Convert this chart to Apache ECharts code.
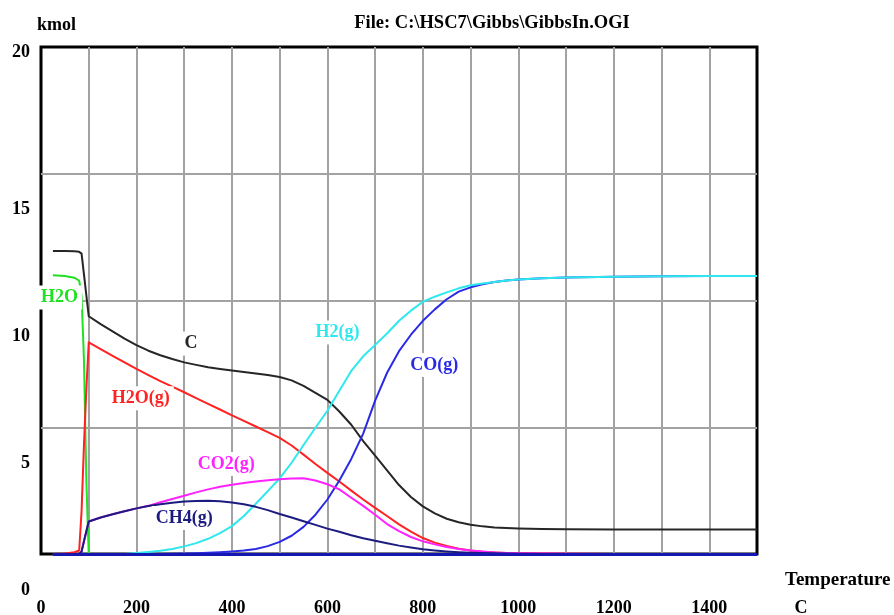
<!DOCTYPE html>
<html>
<head>
<meta charset="utf-8">
<title>GibbsIn equilibrium amounts</title>
<script src="https://cdn.jsdelivr.net/npm/echarts@6/dist/echarts.min.js"></script>
<style>
  html, body { margin: 0; padding: 0; background: #fff; }
  #chart { width: 894px; height: 615px; }
</style>
</head>
<body>
<div id="chart"></div>
<script>
// Temperature steps (C) shared by every species
const temps = [25, 50, 70, 80, 85, 90, 95, 100, 125, 150, 175, 200, 225, 250, 275, 300, 325, 350, 375, 400,
  425, 450, 475, 500, 525, 550, 575, 600, 625, 650, 675, 700, 725, 750, 775, 800, 825, 850, 875, 900,
  925, 950, 975, 1000, 1050, 1100, 1200, 1300, 1400, 1500];

// Equilibrium amounts, kmol
const cSolid = [11.95, 11.95, 11.94, 11.92, 11.85, 11.03, 10.2, 9.38, 9.07, 8.78, 8.5, 8.24, 8.02, 7.84, 7.69, 7.56, 7.46, 7.37, 7.3, 7.24,
  7.18, 7.12, 7.06, 6.98, 6.85, 6.63, 6.36, 6.08, 5.62, 5.1, 4.45, 3.88, 3.3, 2.72, 2.25, 1.88, 1.6, 1.39, 1.25, 1.15,
  1.09, 1.05, 1.03, 1.01, 0.99, 0.98, 0.97, 0.97, 0.97, 0.97];
const h2oLiquid = [11.0, 10.97, 10.9, 10.78, 10.2, 7.65, 2.9, 0, 0, 0, 0, 0, 0, 0, 0, 0, 0, 0, 0, 0,
  0, 0, 0, 0, 0, 0, 0, 0, 0, 0, 0, 0, 0, 0, 0, 0, 0, 0, 0, 0,
  0, 0, 0, 0, 0, 0, 0, 0, 0, 0];
const h2oGas = [0, 0.02, 0.07, 0.14, 1.7, 4.3, 6.5, 8.35, 8.08, 7.82, 7.56, 7.3, 7.06, 6.82, 6.6, 6.38, 6.15, 5.92, 5.7, 5.47,
  5.25, 5.03, 4.81, 4.58, 4.28, 3.92, 3.55, 3.2, 2.86, 2.5, 2.15, 1.82, 1.5, 1.17, 0.88, 0.63, 0.45, 0.32, 0.21, 0.14,
  0.09, 0.06, 0.04, 0.03, 0.02, 0.01, 0, 0, 0, 0];
const ch4Gas = [0, 0, 0, 0, 0.1, 0.5, 0.9, 1.28, 1.44, 1.57, 1.69, 1.8, 1.89, 1.96, 2.02, 2.07, 2.09, 2.1, 2.08, 2.03,
  1.96, 1.86, 1.73, 1.58, 1.44, 1.29, 1.15, 1.0, 0.88, 0.74, 0.62, 0.52, 0.42, 0.33, 0.26, 0.19, 0.14, 0.1, 0.07, 0.05,
  0.04, 0.03, 0.02, 0.01, 0, 0, 0, 0, 0, 0];
const co2Gas = [0, 0, 0, 0, 0.1, 0.5, 0.9, 1.28, 1.44, 1.57, 1.69, 1.8, 1.9, 2.04, 2.17, 2.3, 2.43, 2.55, 2.65, 2.73,
  2.8, 2.86, 2.91, 2.95, 2.98, 2.99, 2.9, 2.75, 2.55, 2.22, 1.9, 1.55, 1.18, 0.9, 0.67, 0.5, 0.38, 0.28, 0.2, 0.14,
  0.1, 0.06, 0.04, 0.03, 0.02, 0.01, 0, 0, 0, 0];
const h2Gas = [0, 0, 0, 0, 0, 0, 0, 0, 0, 0, 0, 0.04, 0.08, 0.13, 0.2, 0.3, 0.43, 0.6, 0.82, 1.1,
  1.5, 1.98, 2.48, 2.98, 3.6, 4.3, 4.98, 5.65, 6.44, 7.22, 7.8, 8.25, 8.7, 9.2, 9.6, 9.95, 10.15, 10.32, 10.48, 10.6,
  10.67, 10.73, 10.79, 10.83, 10.88, 10.91, 10.94, 10.96, 10.97, 10.97];
const coGas = [0, 0, 0, 0, 0, 0, 0, 0, 0, 0, 0, 0, 0, 0, 0.01, 0.02, 0.03, 0.05, 0.07, 0.1,
  0.14, 0.2, 0.31, 0.48, 0.72, 1.07, 1.55, 2.15, 2.9, 3.75, 4.75, 6.05, 7.15, 8.0, 8.65, 9.2, 9.65, 10.05, 10.35, 10.52,
  10.64, 10.73, 10.79, 10.83, 10.88, 10.91, 10.94, 10.96, 10.97, 10.97];

// Axis tick labels
const xTickLabels = ['0', '200', '400', '600', '800', '1000', '1200', '1400'];
const yTickLabels = ['0', '5', '10', '15', '20'];

const FONT = '"Liberation Serif", "Times New Roman", serif';

// Species drawn in order (later ones on top)
const species = [
  { name: 'H2O',    values: h2oLiquid, color: '#22e022', at: [39, 10.12] },
  { name: 'H2O(g)', values: h2oGas,    color: '#ff2222', at: [209, 6.14] },
  { name: 'C',      values: cSolid,    color: '#262626', at: [314, 8.3] },
  { name: 'CO(g)',  values: coGas,     color: '#2a2ae6', at: [824, 7.46] },
  { name: 'H2(g)',  values: h2Gas,     color: '#2ee8ee', at: [621, 8.74] },
  { name: 'CO2(g)', values: co2Gas,    color: '#ff22ff', at: [388, 3.55] },
  { name: 'CH4(g)', values: ch4Gas,    color: '#1c1c80', at: [300, 1.42] }
];

const chart = echarts.init(document.getElementById('chart'));

const gridLine = { show: true, showMinLine: false, showMaxLine: false,
  lineStyle: { color: '#a2a2a2', width: 2 } };

const seriesList = species.map(s => ({
  type: 'line',
  name: s.name,
  data: temps.map((t, i) => [t, s.values[i]]),
  showSymbol: false,
  clip: false,
  lineStyle: { color: s.color, width: 2, join: 'round' },
  itemStyle: { color: s.color }
}));

// Zero baseline over the calculated temperature range
seriesList[seriesList.length - 1].markLine = {
  silent: true,
  symbol: 'none',
  label: { show: false },
  lineStyle: { color: '#1616b0', width: 3, type: 'solid' },
  data: [[{ coord: [temps[0], 0] }, { coord: [temps[temps.length - 1], 0] }]]
};

chart.setOption({
  animation: false,
  backgroundColor: '#ffffff',
  grid: { left: 41, top: 47, width: 716, height: 507, show: true, outerBoundsMode: 'none',
    borderColor: '#000', borderWidth: 3, backgroundColor: 'transparent' },
  xAxis: {
    type: 'value', min: 0, max: 1500, interval: 100,
    axisLine: { show: false }, axisTick: { show: false },
    splitLine: gridLine,
    axisLabel: {
      margin: 45, color: '#000', fontFamily: FONT, fontSize: 18, fontWeight: 'bold',
      formatter: v => xTickLabels.includes(String(v)) ? String(v) : ''
    }
  },
  yAxis: {
    type: 'value', min: 0, max: 20, interval: 5,
    axisLine: { show: false }, axisTick: { show: false }, axisLabel: { show: false },
    splitLine: gridLine
  },
  series: seriesList
});

// Texts placed from the axis scales
const toPx = (t, v) => chart.convertToPixel({ xAxisIndex: 0, yAxisIndex: 0 }, [t, v]);
const textStyle = (extra) => Object.assign({
  fontFamily: FONT, fontSize: 18, fontWeight: 'bold', fill: '#000'
}, extra);

const graphics = [];

// Value labels sit below their grid line, the top one at the frame
yTickLabels.forEach(lbl => {
  const v = Number(lbl);
  const p = toPx(0, v);
  const dy = v === 20 ? 5 : 36;
  graphics.push({ type: 'text', z: 100, x: 30, y: p[1] + dy,
    style: textStyle({ text: lbl, align: 'right', verticalAlign: 'middle' }) });
});

// Species names on white boxes
species.forEach(s => {
  const p = toPx(s.at[0], s.at[1]);
  graphics.push({ type: 'text', z: 100, x: p[0], y: p[1],
    style: textStyle({ text: s.name, fill: s.color, align: 'center', verticalAlign: 'middle',
      backgroundColor: '#fff', padding: [3, 4] }) });
});

// Titles
graphics.push(
  { type: 'text', z: 100, x: 37, y: 25, style: textStyle({ text: 'kmol', align: 'left', verticalAlign: 'middle' }) },
  { type: 'text', z: 100, x: 492, y: 23, style: textStyle({ text: 'File: C:\\HSC7\\Gibbs\\GibbsIn.OGI', fontSize: 18.5, align: 'center', verticalAlign: 'middle' }) },
  { type: 'text', z: 100, x: 785, y: 580, style: textStyle({ text: 'Temperature', fontSize: 19, align: 'left', verticalAlign: 'middle' }) },
  { type: 'text', z: 100, x: 801, y: 608, style: textStyle({ text: 'C', align: 'center', verticalAlign: 'middle' }) }
);

chart.setOption({ graphic: graphics });
</script>
</body>
</html>
